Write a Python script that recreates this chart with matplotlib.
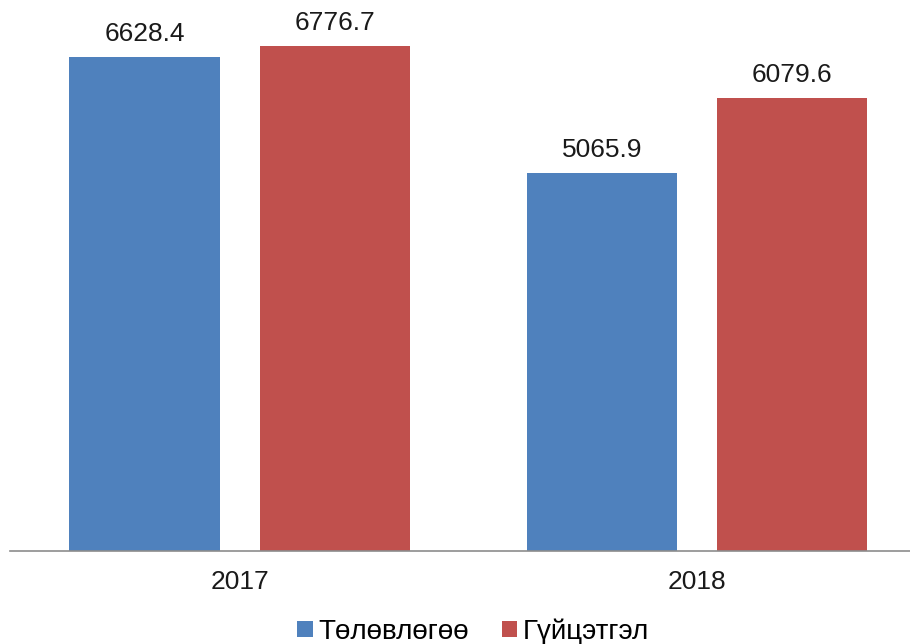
import matplotlib
matplotlib.use("Agg")
from matplotlib import pyplot as plt
import numpy as np

years = ["2017", "2018"]
plan = [6628.4, 5065.9]
actual = [6776.7, 6079.6]
series_names = ["Төлөвлөгөө", "Гүйцэтгэл"]

plt.rcParams['font.family'] = ['Liberation Sans', 'DejaVu Sans']

fig = plt.figure(figsize=(9.10, 6.44), dpi=100)
ax = fig.add_axes([10/910, 93/644, 900/910, 551/644])

x = np.arange(len(years))
w = 0.33
b1 = ax.bar(x - 0.208, plan, w, color='#4F81BD', label=series_names[0])
b2 = ax.bar(x + 0.208, actual, w, color='#C0504D', label=series_names[1])

for bars, vals in [(b1, plan), (b2, actual)]:
    for r, v in zip(bars, vals):
        ax.annotate(f"{v:.1f}", (r.get_x() + r.get_width()/2, v),
                    xytext=(0, 8), textcoords='offset points',
                    ha='center', va='bottom', fontsize=19, color='#1a1a1a')

ax.set_xlim(-0.503, 1.466)
ax.set_ylim(0, 7394)
ax.set_xticks(x)
ax.set_xticklabels(years, fontsize=19, color='#1a1a1a')
ax.tick_params(axis='x', length=0, pad=14)
ax.set_yticks([])
for s in ['top', 'right', 'left']:
    ax.spines[s].set_visible(False)
ax.spines['bottom'].set_color('#8c8c8c')
ax.spines['bottom'].set_linewidth(1.2)

fig.legend(loc='lower center', bbox_to_anchor=(0.52, -0.04), ncol=2, frameon=False,
           fontsize=20, handlelength=0.55, handleheight=0.55, handletextpad=0.2,
           columnspacing=1.2)

fig.savefig("out.png", dpi=100)
